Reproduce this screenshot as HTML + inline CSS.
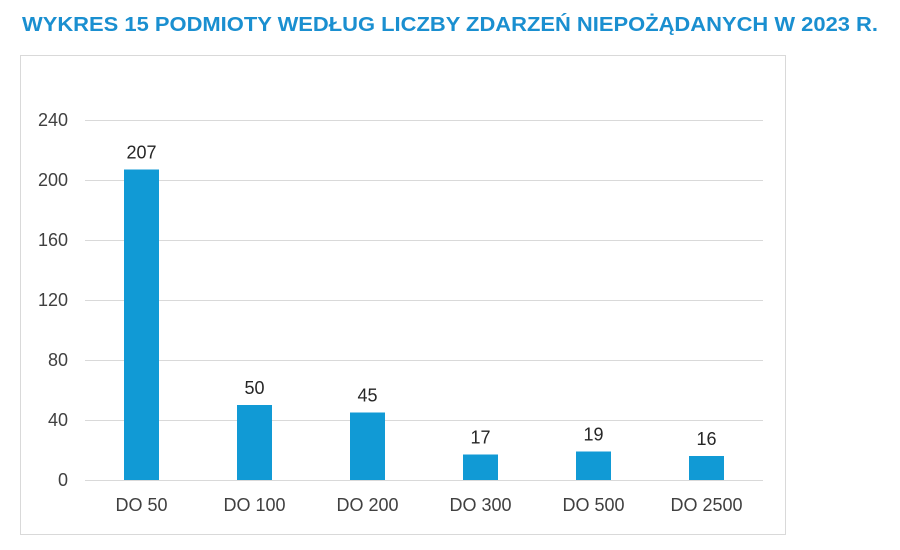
<!DOCTYPE html>
<html><head><meta charset="utf-8"><style>
body{margin:0;background:#fff;width:900px;height:545px;overflow:hidden;font-family:"Liberation Sans",sans-serif}
</style></head><body>
<svg width="900" height="545">
<text x="22" y="31" fill="#1a8fd0" font-weight="bold" font-size="20" textLength="856" lengthAdjust="spacingAndGlyphs">WYKRES 15 PODMIOTY WEDŁUG LICZBY ZDARZEŃ NIEPOŻĄDANYCH W 2023 R.</text>
<rect x="20.5" y="55.5" width="765" height="479" fill="none" stroke="#d9d9d9"/>
<g id="g"></g>
</svg>
<script>
const categories=["DO 50","DO 100","DO 200","DO 300","DO 500","DO 2500"];
const values=[207,50,45,17,19,16];
const ticks=[0,40,80,120,160,200,240];
const g=document.getElementById('g');
const ns='http://www.w3.org/2000/svg';
const L=85,R=763,T=120,B=480,max=240;
const y=v=>B-(B-T)*v/max;
const bw=(R-L)/categories.length;
const x=i=>L+bw*(i+0.5);
function mk(t,a){const e=document.createElementNS(ns,t);for(const k in a)e.setAttribute(k,a[k]);g.appendChild(e);return e;}
ticks.forEach(t=>{
 const l=mk('line',{x1:L,x2:R,y1:y(t)+0.5,y2:y(t)+0.5,stroke:'#d9d9d9'});
 
 
 const tx=mk('text',{x:68,y:y(t)+6,'text-anchor':'end','font-size':18,fill:'#404040'});
 tx.textContent=t;
 
 
});
values.forEach((v,i)=>{
 const r=mk('rect',{x:x(i)-17.5,y:y(v),width:35,height:B-y(v),fill:'#119ad5'});
 
 
 const lb=mk('text',{x:x(i),y:y(v)-11,'text-anchor':'middle','font-size':18,fill:'#262626'});
 lb.textContent=v;
 
 
 const c=mk('text',{x:x(i),y:511,'text-anchor':'middle','font-size':18,fill:'#404040'});
 c.textContent=categories[i];
 
 
});
</script>
</body></html>
